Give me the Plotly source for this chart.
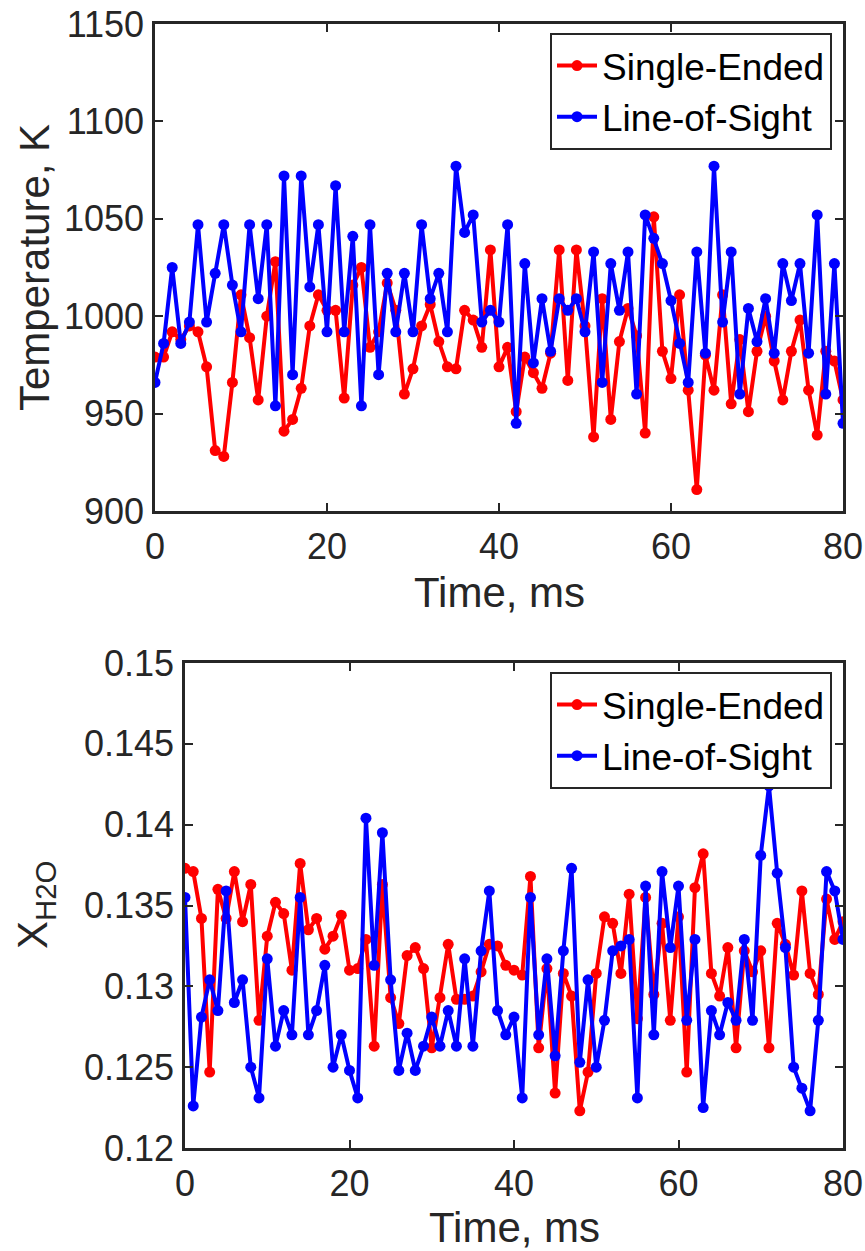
import plotly.graph_objects as go

time_ms = list(range(0, 81))

temp_single = [979, 979, 992, 988, 995, 992, 974, 931, 928, 966,
               1011, 989, 957, 1000, 1028, 941, 947, 963, 995, 1011,
               1003, 1003, 958, 1016, 1025, 984, 992, 1017, 1003, 960,
               973, 995, 1006, 987, 974, 973, 1003, 998, 984, 1034,
               974, 984, 951, 979, 971, 963, 981, 1034, 967, 1034,
               995, 938, 1009, 947, 987, 1004, 990, 940, 1051, 982,
               968, 1011, 962, 911, 980, 962, 1011, 955, 988, 951,
               982, 1000, 977, 957, 982, 998, 962, 939, 982, 977, 957]

temp_los = [966, 986, 1025, 986, 997, 1047, 997, 1022, 1047, 1016,
            992, 1047, 1009, 1047, 954, 1072, 970, 1072, 1015, 1047,
            992, 1067, 992, 1041, 954, 1047, 970, 1022, 992, 1022,
            992, 1047, 1009, 1022, 992, 1077, 1043, 1052, 997, 1003,
            997, 1047, 945, 1027, 976, 1009, 982, 1009, 1003, 1009,
            992, 1033, 966, 1027, 1003, 1033, 960, 1052, 1040, 1027,
            1008, 986, 966, 1033, 981, 1077, 997, 1033, 960, 1004,
            987, 1009, 981, 1027, 1008, 1027, 981, 1052, 960, 1027, 945]

xh2o_single = [0.1373, 0.1371, 0.1342, 0.1247, 0.1360, 0.1342, 0.1371, 0.1340, 0.1363, 0.1279,
               0.1331, 0.1352, 0.1345, 0.1310, 0.1376, 0.1335, 0.1342, 0.1323, 0.1331, 0.1344,
               0.1310, 0.1311, 0.1329, 0.1263, 0.1363, 0.1293, 0.1277, 0.1319, 0.1324, 0.1311,
               0.1262, 0.1293, 0.1326, 0.1292, 0.1292, 0.1294, 0.1309, 0.1326, 0.1325, 0.1313,
               0.1310, 0.1307, 0.1368, 0.1262, 0.1311, 0.1234, 0.1308, 0.1294, 0.1223, 0.1247,
               0.1308, 0.1343, 0.1339, 0.1308, 0.1357, 0.1280, 0.1355, 0.1295, 0.1339, 0.1279,
               0.1343, 0.1247, 0.1361, 0.1382, 0.1308, 0.1294, 0.1324, 0.1262, 0.1322, 0.1309,
               0.1322, 0.1262, 0.1339, 0.1326, 0.1307, 0.1359, 0.1308, 0.1295, 0.1354, 0.1329, 0.1340]

xh2o_los = [0.1355, 0.1226, 0.1281, 0.1304, 0.1285, 0.1359, 0.1290, 0.1304, 0.1250, 0.1231,
            0.1317, 0.1263, 0.1285, 0.1270, 0.1355, 0.1270, 0.1285, 0.1313, 0.1250, 0.1270,
            0.1248, 0.1231, 0.1404, 0.1313, 0.1395, 0.1304, 0.1248, 0.1271, 0.1248, 0.1263,
            0.1281, 0.1263, 0.1285, 0.1263, 0.1317, 0.1263, 0.1322, 0.1359, 0.1285, 0.1270,
            0.1281, 0.1231, 0.1355, 0.1270, 0.1317, 0.1257, 0.1322, 0.1373, 0.1253, 0.1304,
            0.1250, 0.1279, 0.1322, 0.1325, 0.1329, 0.1231, 0.1362, 0.1270, 0.1371, 0.1324,
            0.1362, 0.1279, 0.1329, 0.1225, 0.1285, 0.1270, 0.1290, 0.1279, 0.1329, 0.1279,
            0.1381, 0.1424, 0.1370, 0.1324, 0.1250, 0.1237, 0.1223, 0.1279, 0.1371, 0.1359, 0.1329]

x_ticks = [0, 20, 40, 60, 80]
temp_ticks = [900, 950, 1000, 1050, 1100, 1150]
xh2o_ticks = [0.12, 0.125, 0.13, 0.135, 0.14, 0.145, 0.15]

W, H = 865, 1251
FONT = "Liberation Sans, Arial, Helvetica, sans-serif"
AX = "#262626"
RED = "#FF0000"
BLUE = "#0000FF"

fig = go.Figure()

def add_series(y, name, color, xa, ya, leg):
    fig.add_trace(go.Scatter(
        x=time_ms, y=y, name=name, mode="lines+markers",
        line=dict(color=color, width=4),
        marker=dict(color=color, size=11, symbol="circle"),
        xaxis=xa, yaxis=ya, legend=leg,
    ))

add_series(temp_single, "Single-Ended", RED, "x", "y", "legend")
add_series(temp_los, "Line-of-Sight", BLUE, "x", "y", "legend")
add_series(xh2o_single, "Single-Ended", RED, "x2", "y2", "legend2")
add_series(xh2o_los, "Line-of-Sight", BLUE, "x2", "y2", "legend2")

axis_common = dict(
    showline=True, linecolor=AX, linewidth=2.5, mirror="ticks",
    ticks="inside", ticklen=8, tickwidth=2, tickcolor=AX,
    showgrid=False, zeroline=False,
    tickfont=dict(family=FONT, size=36, color=AX),
    automargin=False,
)

legend_common = dict(
    xanchor="right", yanchor="top", xref="paper", yref="paper",
    bgcolor="white", bordercolor=AX, borderwidth=2,
    font=dict(family=FONT, size=37, color="black"),
    itemwidth=40, tracegroupgap=0,
)

fig.update_layout(
    width=W, height=H,
    margin=dict(l=0, r=0, t=0, b=0),
    paper_bgcolor="white", plot_bgcolor="white",
    font=dict(family=FONT, color=AX),
    xaxis=dict(domain=[155 / W, 843 / W], range=[0, 80], tickvals=x_ticks,
               anchor="y", ticklabelstandoff=2, **axis_common),
    yaxis=dict(domain=[1 - 511 / H, 1 - 24 / H], range=[900, 1150], tickvals=temp_ticks,
               anchor="x", ticklabelstandoff=1, **axis_common),
    xaxis2=dict(domain=[185 / W, 843 / W], range=[0, 80], tickvals=x_ticks,
                anchor="y2", ticklabelstandoff=2, **axis_common),
    yaxis2=dict(domain=[1 - 1148 / H, 1 - 663 / H], range=[0.12, 0.15], tickvals=xh2o_ticks,
                ticktext=[str(v) for v in xh2o_ticks],
                anchor="x2", ticklabelstandoff=1, **axis_common),
    legend=dict(x=832 / W, y=1 - 33 / H, **legend_common),
    legend2=dict(x=832 / W, y=1 - 672 / H, **legend_common),
    showlegend=True,
)

title_font = dict(family=FONT, size=42, color=AX)
fig.add_annotation(text="Time, ms", x=(155 + 843) / 2 / W, y=1 - 592 / H,
                   xref="paper", yref="paper", showarrow=False, font=title_font,
                   xanchor="center", yanchor="middle")
fig.add_annotation(text="Time, ms", x=(185 + 843) / 2 / W, y=1 - 1227 / H,
                   xref="paper", yref="paper", showarrow=False, font=title_font,
                   xanchor="center", yanchor="middle")
fig.add_annotation(text="Temperature, K", x=35 / W, y=1 - 268 / H,
                   xref="paper", yref="paper", showarrow=False, font=title_font,
                   textangle=-90, xanchor="center", yanchor="middle")
fig.add_annotation(text="X<sub>H2O</sub>", x=35 / W, y=1 - 905 / H,
                   xref="paper", yref="paper", showarrow=False, font=title_font,
                   textangle=-90, xanchor="center", yanchor="middle")

fig.write_html("out.html")
